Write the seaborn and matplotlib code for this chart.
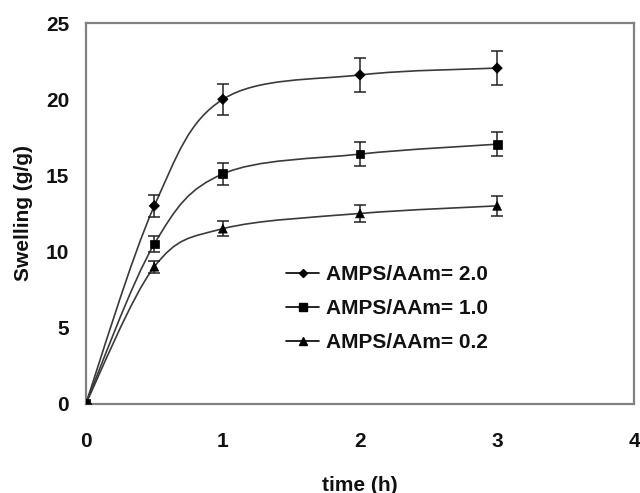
import numpy as np
import pandas as pd
import matplotlib
matplotlib.use("Agg")
import matplotlib.pyplot as plt
from matplotlib.path import Path
from matplotlib.patches import PathPatch
from matplotlib.lines import Line2D
import seaborn as sns

# ---- data ----
time_h = [0, 0.5, 1, 2, 3]
labels = ["AMPS/AAm= 2.0", "AMPS/AAm= 1.0", "AMPS/AAm= 0.2"]
swell_20 = [0, 13.0, 20.0, 21.6, 22.05]
swell_10 = [0, 10.5, 15.1, 16.4, 17.05]
swell_02 = [0, 9.0, 11.5, 12.5, 13.0]
err_20 = [0, 0.7, 1.0, 1.1, 1.1]
err_10 = [0, 0.5, 0.7, 0.8, 0.8]
err_02 = [0, 0.4, 0.5, 0.55, 0.65]
markers = ["D", "s", "^"]
xticks = [0, 1, 2, 3, 4]
yticks = [0, 5, 10, 15, 20, 25]

series = [swell_20, swell_10, swell_02]
errs = [err_20, err_10, err_02]

rows = []
for lab, ys in zip(labels, series):
    for t, v in zip(time_h, ys):
        rows.append({"time": t, "swelling": v, "series": lab})
df = pd.DataFrame(rows)

sns.set_style("white")
plt.rcParams["font.family"] = ["Liberation Sans", "DejaVu Sans"]
plt.rcParams["font.weight"] = "bold"

fig = plt.figure(figsize=(6.4, 4.93), dpi=100)
ax = fig.add_axes([0.134, 0.181, 0.857, 0.772])

line_col = "#3a3a3a"


def smooth_path(xs, ys):
    """Excel-style smoothed line: cubic Bezier segments through the data points."""
    pts = np.column_stack([xs, ys]).astype(float)
    n = len(pts)
    verts = [pts[0]]
    codes = [Path.MOVETO]
    for i in range(n - 1):
        p_prev = pts[i - 1] if i > 0 else pts[i]
        p0 = pts[i]
        p1 = pts[i + 1]
        p_next = pts[i + 2] if i + 2 < n else pts[i + 1]
        c1 = p0 + (p1 - p_prev) / 6.0
        c2 = p1 - (p_next - p0) / 6.0
        verts += [c1, c2, p1]
        codes += [Path.CURVE4] * 3
    return Path(verts, codes)


for ys, es in zip(series, errs):
    ax.add_patch(PathPatch(smooth_path(time_h, ys), facecolor="none",
                           edgecolor=line_col, lw=1.2, zorder=2))
    ax.errorbar(time_h, ys, yerr=es, fmt="none", ecolor="#222222",
                elinewidth=1.1, capsize=4, capthick=1.1, zorder=3)

sns.scatterplot(data=df, x="time", y="swelling", style="series",
                markers=dict(zip(labels, markers)), color="black",
                size="series", sizes={labels[0]: 28, labels[1]: 40, labels[2]: 40},
                edgecolor="black", linewidth=0.5, legend=False,
                ax=ax, zorder=4)

ax.set_xlim(0, 4)
ax.set_ylim(0, 25)
ax.set_xticks(xticks)
ax.set_yticks(yticks)
ax.tick_params(axis="x", direction="in", length=4, width=1, colors="#555555",
               labelcolor="#111111", labelsize=15, pad=20)
ax.tick_params(axis="y", direction="in", length=0, labelcolor="#111111",
               labelsize=15, pad=12)
for lab in ax.get_xticklabels() + ax.get_yticklabels():
    lab.set_fontweight("bold")

for sp in ax.spines.values():
    sp.set_color("#808080")
    sp.set_linewidth(1.6)

ax.set_xlabel("time (h)", fontsize=15, fontweight="bold", color="#111111",
              labelpad=18)
ax.set_ylabel("Swelling (g/g)", fontsize=15, fontweight="bold", color="#111111",
              labelpad=9)

handles = [Line2D([0], [0], color="black", lw=1.2, marker=m, markersize=ms,
                  markerfacecolor="black", markeredgecolor="black")
           for m, ms in zip(markers, [4.5, 5.5, 6])]
leg = ax.legend(handles, labels, loc="upper left", bbox_to_anchor=(0.365, 0.364),
                frameon=False, prop={"size": 15, "weight": "bold"},
                borderpad=0, borderaxespad=0,
                handlelength=1.6, handletextpad=0.3, labelspacing=0.72)
for t in leg.get_texts():
    t.set_color("#111111")

fig.savefig("out.png", dpi=100)
